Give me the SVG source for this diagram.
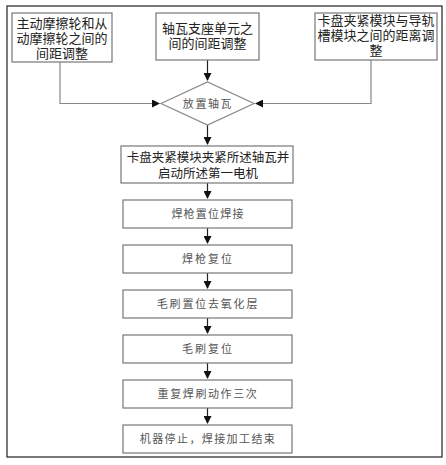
<svg xmlns="http://www.w3.org/2000/svg" width="446" height="465" viewBox="0 0 446 465">
<defs>
<marker id="ah" markerWidth="8" markerHeight="8" refX="7" refY="4" orient="auto" markerUnits="userSpaceOnUse"><path d="M0,0 L8,4 L0,8 Z" fill="#111"/></marker>
</defs>
<style>
.box{fill:#fff;stroke:#777;stroke-width:1.2}
.t{font-family:"Liberation Sans","Noto Sans CJK SC",sans-serif;font-size:13px;fill:#222;text-anchor:middle}
.s{font-family:"Liberation Sans","Noto Sans CJK SC",sans-serif;font-size:11px;fill:#555;text-anchor:middle;letter-spacing:1.2px}
.c{fill:none;stroke:#888;stroke-width:1.2}
.cd{fill:none;stroke:#222;stroke-width:1.2}
</style>
<rect x="0" y="0" width="446" height="465" fill="#fff"/>
<rect x="7" y="6" width="435" height="451" fill="none" stroke="#222" stroke-width="1.2"/>
<g id="connectors">
<path class="c" d="M60,62 V103.5 H159" marker-end="url(#ah)"/>
<path class="c" d="M371,60 V103.5 H256" marker-end="url(#ah)"/>
<path class="cd" d="M207.5,60 V80" marker-end="url(#ah)"/>
<path class="cd" d="M207.5,125 V144" marker-end="url(#ah)"/>
<path class="cd" d="M207.5,183 V198" marker-end="url(#ah)"/>
<path class="cd" d="M207.5,228 V243" marker-end="url(#ah)"/>
<path class="cd" d="M207.5,273 V288" marker-end="url(#ah)"/>
<path class="cd" d="M207.5,318 V333" marker-end="url(#ah)"/>
<path class="cd" d="M207.5,363 V378" marker-end="url(#ah)"/>
<path class="cd" d="M207.5,408 V423" marker-end="url(#ah)"/>
</g>
<g id="n1"><rect class="box" x="12" y="13" width="100" height="49"/>
<text class="t" x="62" y="28"><tspan x="62">主动摩擦轮和从</tspan><tspan x="62" dy="15">动摩擦轮之间的</tspan><tspan x="62" dy="15">间距调整</tspan></text></g>
<g id="n2"><rect class="box" x="156" y="13" width="103" height="47"/>
<text class="t" x="207.5" y="33"><tspan x="207.5">轴瓦支座单元之</tspan><tspan x="207.5" dy="15">间的间距调整</tspan></text></g>
<g id="n3"><rect class="box" x="315" y="13" width="122" height="47"/>
<text class="t" x="376" y="25"><tspan x="376">卡盘夹紧模块与导轨</tspan><tspan x="376" dy="15">槽模块之间的距离调</tspan><tspan x="376" dy="15">整</tspan></text></g>
<g id="n4"><path d="M161,103.5 L207.5,82 L254,103.5 L207.5,125 Z" fill="#fff" stroke="#888" stroke-width="1.2"/>
<text class="s" x="208" y="107.5" style="letter-spacing:1.6px">放置轴瓦</text></g>
<g id="n5"><rect class="box" x="121" y="146" width="172" height="37"/>
<text class="t" x="208" y="162" style="font-size:12.5px"><tspan x="208">卡盘夹紧模块夹紧所述轴瓦并</tspan><tspan x="208" dy="16">启动所述第一电机</tspan></text></g>
<g id="n6"><rect class="box" x="123" y="200" width="169" height="28"/><text class="s" x="208" y="218">焊枪置位焊接</text></g>
<g id="n7"><rect class="box" x="123" y="245" width="169" height="28"/><text class="s" x="208" y="263" style="letter-spacing:2px">焊枪复位</text></g>
<g id="n8"><rect class="box" x="123" y="290" width="169" height="28"/><text class="s" x="208" y="308" style="letter-spacing:1.8px">毛刷置位去氧化层</text></g>
<g id="n9"><rect class="box" x="123" y="335" width="169" height="28"/><text class="s" x="208" y="353" style="letter-spacing:2px">毛刷复位</text></g>
<g id="n10"><rect class="box" x="123" y="380" width="169" height="28"/><text class="s" x="208" y="398" style="letter-spacing:1.6px">重复焊刷动作三次</text></g>
<g id="n11"><rect class="box" x="123" y="425" width="169" height="28"/><text class="s" x="208" y="443" style="letter-spacing:1.4px">机器停止，焊接加工结束</text></g>
</svg>
